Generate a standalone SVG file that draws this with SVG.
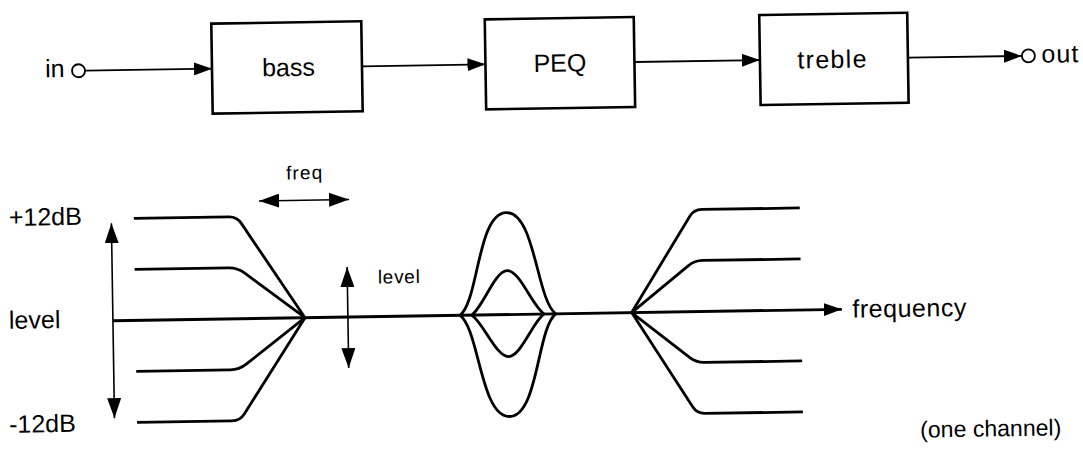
<svg xmlns="http://www.w3.org/2000/svg" width="1083" height="453" viewBox="0 0 1083 453">
<defs>
<style>
.box{fill:#fff;stroke:#000;stroke-width:2.6}
.port{fill:#fff;stroke:#000;stroke-width:1.8}
.lbl{font-family:"Liberation Sans",Arial,sans-serif;fill:#000}
.big{font-size:25px}
.small{font-size:19px}
.wire{fill:none;stroke:#000;stroke-width:1.8}
.curve{fill:none;stroke:#000;stroke-width:2.8;stroke-linejoin:round}
.thin{fill:none;stroke:#000;stroke-width:1.6}
</style>
<marker id="ah" viewBox="0 0 18 13" refX="18" refY="6.5" markerWidth="18" markerHeight="13" markerUnits="userSpaceOnUse" orient="auto-start-reverse">
<path d="M0,0 L18,6.5 L0,13 z" fill="#000"/>
</marker>
<marker id="ah2" viewBox="0 0 20 14" refX="20" refY="7" markerWidth="20" markerHeight="14" markerUnits="userSpaceOnUse" orient="auto-start-reverse">
<path d="M0,0 L20,7 L0,14 z" fill="#000"/>
</marker>
</defs>
<rect x="0" y="0" width="1083" height="453" fill="#fff"/>
<g transform="rotate(-0.9 541 226)">
<g id="connectors">
<line class="wire" x1="87.5" y1="63.5" x2="214.5" y2="63.5" marker-end="url(#ah)"/>
<line class="wire" x1="364.5" y1="63.5" x2="488" y2="63.5" marker-end="url(#ah)"/>
<line class="wire" x1="637" y1="63.5" x2="762.5" y2="63.5" marker-end="url(#ah)"/>
<line class="wire" x1="910.5" y1="63.5" x2="1024.5" y2="63.5" marker-end="url(#ah)"/>
</g>
<g id="node-in">
<circle class="port" cx="81" cy="63.5" r="6.5"/>
<text class="lbl big" x="67" y="69.5" text-anchor="end">in</text>
</g>
<g id="node-bass">
<rect class="box" x="214.5" y="18.5" width="150" height="90"/>
<text class="lbl big" x="291" y="72" text-anchor="middle">bass</text>
</g>
<g id="node-peq">
<rect class="box" x="488" y="18.5" width="149" height="90"/>
<text class="lbl big" x="562.5" y="72" text-anchor="middle">PEQ</text>
</g>
<g id="node-treble">
<rect class="box" x="762.5" y="18.5" width="148" height="90"/>
<text class="lbl big" x="834.5" y="72.5" text-anchor="middle" textLength="69" lengthAdjust="spacing">treble</text>
</g>
<g id="node-out">
<circle class="port" cx="1031" cy="63.5" r="6.5"/>
<text class="lbl big" x="1044" y="70.5" textLength="37" lengthAdjust="spacing">out</text>
</g>
<g id="chart">
<g id="level-axis">
<line class="thin" x1="111.5" y1="216.5" x2="111.5" y2="411.5" marker-start="url(#ah2)" marker-end="url(#ah2)"/>
<text class="lbl big" x="9" y="217.5">+12dB</text>
<text class="lbl big" x="7.5" y="320.5">level</text>
<text class="lbl big" x="6" y="424.5">-12dB</text>
</g>
<g id="frequency-axis">
<line class="curve" x1="111.5" y1="314" x2="840.5" y2="314" marker-end="url(#ah)"/>
<text class="lbl big" x="851" y="322.5" textLength="114" lengthAdjust="spacing">frequency</text>
</g>
<g id="bass-curves">
<path class="curve" d="M134,212 H229 Q237,212 241.4,218.7 L303.6,314"/>
<path class="curve" d="M134,263 H228 Q237,263 244.1,268.5 L303.6,314"/>
<path class="curve" d="M134,365 H228 Q237,365 244.1,359.5 L303.6,314"/>
<path class="curve" d="M134,416 H229 Q237,416 241.4,409.3 L303.6,314"/>
<line class="thin" x1="259.5" y1="196.5" x2="349.5" y2="196.5" marker-start="url(#ah2)" marker-end="url(#ah2)"/>
<text class="lbl small" x="305" y="175.5" text-anchor="middle" textLength="36" lengthAdjust="spacing">freq</text>
<line class="thin" x1="346.5" y1="264" x2="346.5" y2="365" marker-start="url(#ah2)" marker-end="url(#ah2)"/>
<text class="lbl small" x="377" y="281" textLength="42" lengthAdjust="spacing">level</text>
</g>
<g id="peq-curves">
<path class="curve" d="M458.6,314 C477.6,300 477.6,212 506.5,212 C535.4,212 535.4,300 554.4,314"/>
<path class="curve" d="M458.6,314 C477.6,328 477.6,416 506.5,416 C535.4,416 535.4,328 554.4,314"/>
<path class="curve" d="M470.3,314 C482,306 494,270 506.5,270 C519,270 531,306 542.7,314"/>
<path class="curve" d="M470.3,314 C482,322 494,356 506.5,356 C519,356 531,322 542.7,314"/>
</g>
<g id="treble-curves">
<path class="curve" d="M630.3,314 L689.8,218.8 Q694,212 702,212 H800"/>
<path class="curve" d="M630.3,314 L687.8,268 Q694,263 702,263 H800"/>
<path class="curve" d="M630.3,314 L687.8,360 Q694,365 702,365 H800"/>
<path class="curve" d="M630.3,314 L689.8,409.2 Q694,416 702,416 H800"/>
</g>
<text class="lbl" x="917" y="443.5" font-size="23" textLength="141" lengthAdjust="spacing">(one channel)</text>
</g>
</g>
</svg>
